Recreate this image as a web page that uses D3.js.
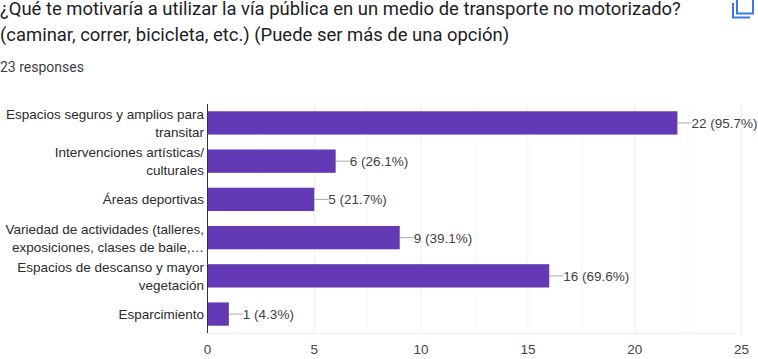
<!DOCTYPE html>
<html>
<head>
<meta charset="utf-8">
<script src="https://cdn.jsdelivr.net/npm/d3@7"></script>
<style>
  html, body { margin: 0; padding: 0; background: #fff; overflow: hidden; }
  text { font-family: "Liberation Sans", Arial, sans-serif; }
  .head { font-family: Roboto, sans-serif; }
</style>
</head>
<body>
<svg id="chart" width="758" height="359"></svg>
<script>
const categories = [
  "Espacios seguros y amplios para|transitar",
  "Intervenciones artísticas/|culturales",
  "Áreas deportivas",
  "Variedad de actividades (talleres,|exposiciones, clases de baile,…",
  "Espacios de descanso y mayor|vegetación",
  "Esparcimiento"
];
const values = [22, 6, 5, 9, 16, 1];
const valueLabels = ["22 (95.7%)", "6 (26.1%)", "5 (21.7%)", "9 (39.1%)", "16 (69.6%)", "1 (4.3%)"];
const xTicks = [0, 5, 10, 15, 20, 25];
const minorTicks = [2.5, 7.5, 12.5, 17.5, 22.5];
const titleLines = [
  "¿Qué te motivaría a utilizar la vía pública en un medio de transporte no motorizado?",
  "(caminar, correr, bicicleta, etc.) (Puede ser más de una opción)"
];
const subtitle = "23 responses";

const svg = d3.select("#chart");

svg.selectAll(".head-line")
  .data(titleLines)
  .enter()
  .append("text")
  .attr("class", "head head-line")
  .attr("x", 0)
  .attr("y", (d, i) => 15 + i * 26)
  .attr("font-size", 18.45)
  .attr("fill", "#202124")
  .text(d => d);

svg.append("text")
  .attr("class", "head")
  .attr("x", 0)
  .attr("y", 72)
  .attr("font-size", 14)
  .attr("fill", "#3c4043")
  .text(subtitle);

// copy icon, top right
const icon = svg.append("g").attr("fill", "none").attr("stroke", "#3b78e7").attr("stroke-width", 2);
icon.append("path").attr("d", "M737 0V13.5H753V0");
icon.append("path").attr("d", "M733 3V17.5H750");

const x = d3.scaleLinear().domain([0, 25]).range([207.5, 741.5]);
const y = d3.scaleBand().domain(categories).range([104, 333]).paddingInner(0.39).paddingOuter(0.19);

// gridlines, the half steps are fainter
svg.append("g")
  .selectAll("line")
  .data(minorTicks)
  .enter()
  .append("line")
  .attr("x1", d => x(d)).attr("x2", d => x(d))
  .attr("y1", 104).attr("y2", 333)
  .attr("stroke", "#f6f6f8");

svg.append("g")
  .selectAll("line")
  .data(xTicks.slice(1))
  .enter()
  .append("line")
  .attr("x1", d => x(d)).attr("x2", d => x(d))
  .attr("y1", 104).attr("y2", 333)
  .attr("stroke", "#eceef2");

svg.append("line")
  .attr("x1", x(0)).attr("x2", x(25))
  .attr("y1", 333.5).attr("y2", 333.5)
  .attr("stroke", "#f0f0f2");

svg.append("g")
  .selectAll("rect")
  .data(values)
  .enter()
  .append("rect")
  .attr("x", x(0))
  .attr("y", (d, i) => y(categories[i]))
  .attr("width", d => x(d) - x(0))
  .attr("height", y.bandwidth())
  .attr("fill", "#6439b5");

svg.append("line")
  .attr("x1", x(0)).attr("x2", x(0))
  .attr("y1", 104).attr("y2", 333)
  .attr("stroke", "#333");

// value labels with leader lines
const labels = svg.append("g");
values.forEach((v, i) => {
  const cy = y(categories[i]) + y.bandwidth() / 2;
  labels.append("line")
    .attr("x1", x(v)).attr("x2", x(v) + 14)
    .attr("y1", cy).attr("y2", cy)
    .attr("stroke", "#aaa");
  labels.append("text")
    .attr("x", x(v) + 14)
    .attr("y", cy + 5)
    .attr("font-size", 13.5)
    .attr("fill", "#424242")
    .text(valueLabels[i]);
});

// category labels
const catLabels = svg.append("g");
categories.forEach(c => {
  const lines = c.split("|");
  const cy = y(c) + y.bandwidth() / 2;
  lines.forEach((l, j) => {
    catLabels.append("text")
      .attr("x", 204)
      .attr("y", cy + 5 + (j - (lines.length - 1) / 2) * 18)
      .attr("text-anchor", "end")
      .attr("font-size", 13.5)
      .attr("fill", "#2b2b2b")
      .text(l);
  });
});

svg.append("g")
  .selectAll("text")
  .data(xTicks)
  .enter()
  .append("text")
  .attr("x", d => x(d))
  .attr("y", 354)
  .attr("text-anchor", "middle")
  .attr("font-size", 13.5)
  .attr("fill", "#444")
  .text(d => d);
</script>
</body>
</html>
